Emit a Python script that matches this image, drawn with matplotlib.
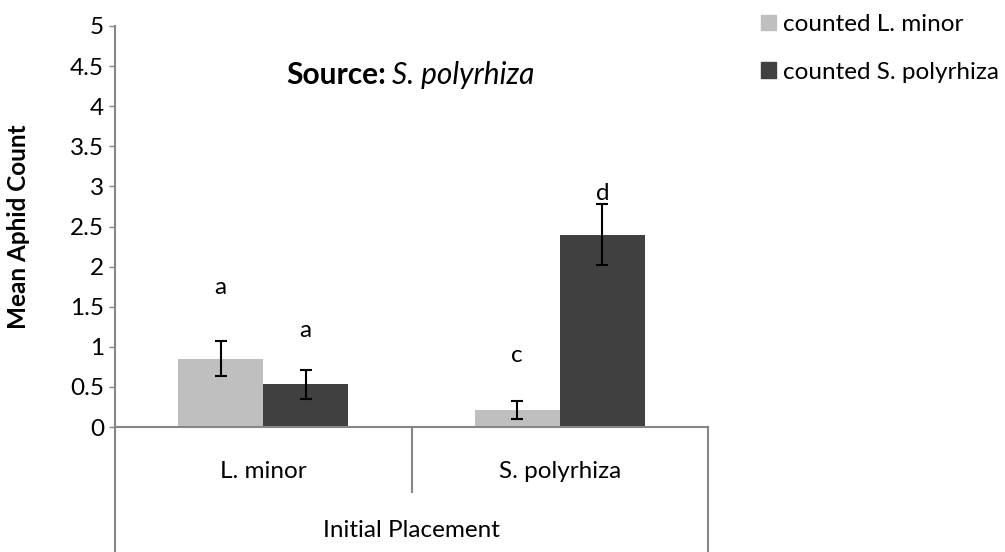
import matplotlib.pyplot as plt
from matplotlib.patches import Patch
import numpy as np

plt.rcParams['font.family'] = ['Lato', 'DejaVu Sans']

# Data
groups = ["L. minor", "S. polyrhiza"]
counted_lminor = [0.85, 0.21]
counted_spoly = [0.53, 2.40]
err_lminor = [0.22, 0.11]
err_spoly = [0.18, 0.38]
letters_lminor = ["a", "c"]
letters_spoly = ["a", "d"]
letter_y_lminor = [1.74, 0.89]
letter_y_spoly = [1.20, 2.91]
yticks = [0, 0.5, 1, 1.5, 2, 2.5, 3, 3.5, 4, 4.5, 5]

LIGHT = '#BFBFBF'
DARK = '#404040'
AXIS = '#868686'
FS = 17.5

W, H = 1005, 552
fig = plt.figure(figsize=(W / 100, H / 100), dpi=100)
ax = fig.add_axes([115 / W, 1 - 427 / H, 593 / W, 401 / H])

x = np.arange(len(groups))
bw = 0.287
ax.bar(x - bw / 2, counted_lminor, bw, color=LIGHT, label='counted L. minor', zorder=2)
ax.bar(x + bw / 2, counted_spoly, bw, color=DARK, label='counted S. polyrhiza', zorder=2)
ax.errorbar(x - bw / 2, counted_lminor, yerr=err_lminor, fmt='none', ecolor='black',
            elinewidth=1.5, capsize=4.5, capthick=1.5, zorder=3)
ax.errorbar(x + bw / 2, counted_spoly, yerr=err_spoly, fmt='none', ecolor='black',
            elinewidth=1.5, capsize=4.5, capthick=1.5, zorder=3)

# significance letters
for i in range(len(groups)):
    ax.text(x[i] - bw / 2, letter_y_lminor[i], letters_lminor[i], ha='center', va='center', fontsize=FS)
    ax.text(x[i] + bw / 2, letter_y_spoly[i], letters_spoly[i], ha='center', va='center', fontsize=FS)

ax.set_xlim(-0.5, len(groups) - 0.5)
ax.set_ylim(0, 5)
ax.set_yticks(yticks)
ax.set_yticklabels([f'{t:g}' for t in yticks])
ax.tick_params(axis='y', length=4, width=1, color=AXIS, labelsize=FS, pad=4)
ax.set_xticks([])

for s in ['top', 'right']:
    ax.spines[s].set_visible(False)
for s in ['left', 'bottom']:
    ax.spines[s].set_color(AXIS)
    ax.spines[s].set_linewidth(1.5)

# category axis box lines below the plot
ax.plot([0, 0], [0, -0.32], transform=ax.transAxes, color=AXIS, lw=1.5, clip_on=False)
ax.plot([0.5, 0.5], [0, -0.162], transform=ax.transAxes, color=AXIS, lw=1.5, clip_on=False)
ax.plot([1, 1], [0, -0.32], transform=ax.transAxes, color=AXIS, lw=1.5, clip_on=False)

trans = ax.get_xaxis_transform()
for i, g in enumerate(groups):
    ax.text(x[i], -0.11, g, transform=trans, ha='center', va='center', fontsize=FS)
ax.text(0.5, -0.259, 'Initial Placement', transform=ax.transAxes, ha='center', va='center', fontsize=FS)

ax.set_ylabel('Mean Aphid Count', fontsize=FS, fontweight='bold')
ax.yaxis.set_label_coords(-0.143, 0.5)

# title: bold "Source:" + italic species
fig.text(386 / W, 1 - 75 / H, 'Source:', ha='right', va='center', fontsize=21.5, fontweight='bold')
fig.text(392 / W, 1 - 75 / H, 'S. polyrhiza', ha='left', va='center', fontsize=21.5, style='italic')

handles = [Patch(color=LIGHT), Patch(color=DARK)]
fig.legend(handles, ['counted L. minor', 'counted S. polyrhiza'], loc='upper left',
           bbox_to_anchor=(761 / W, 1 - 14 / H), frameon=False, fontsize=FS,
           handlelength=0.62, handleheight=0.6, handletextpad=0.3, labelspacing=1.1,
           borderaxespad=0, borderpad=0)

fig.savefig('out.png', dpi=100)
